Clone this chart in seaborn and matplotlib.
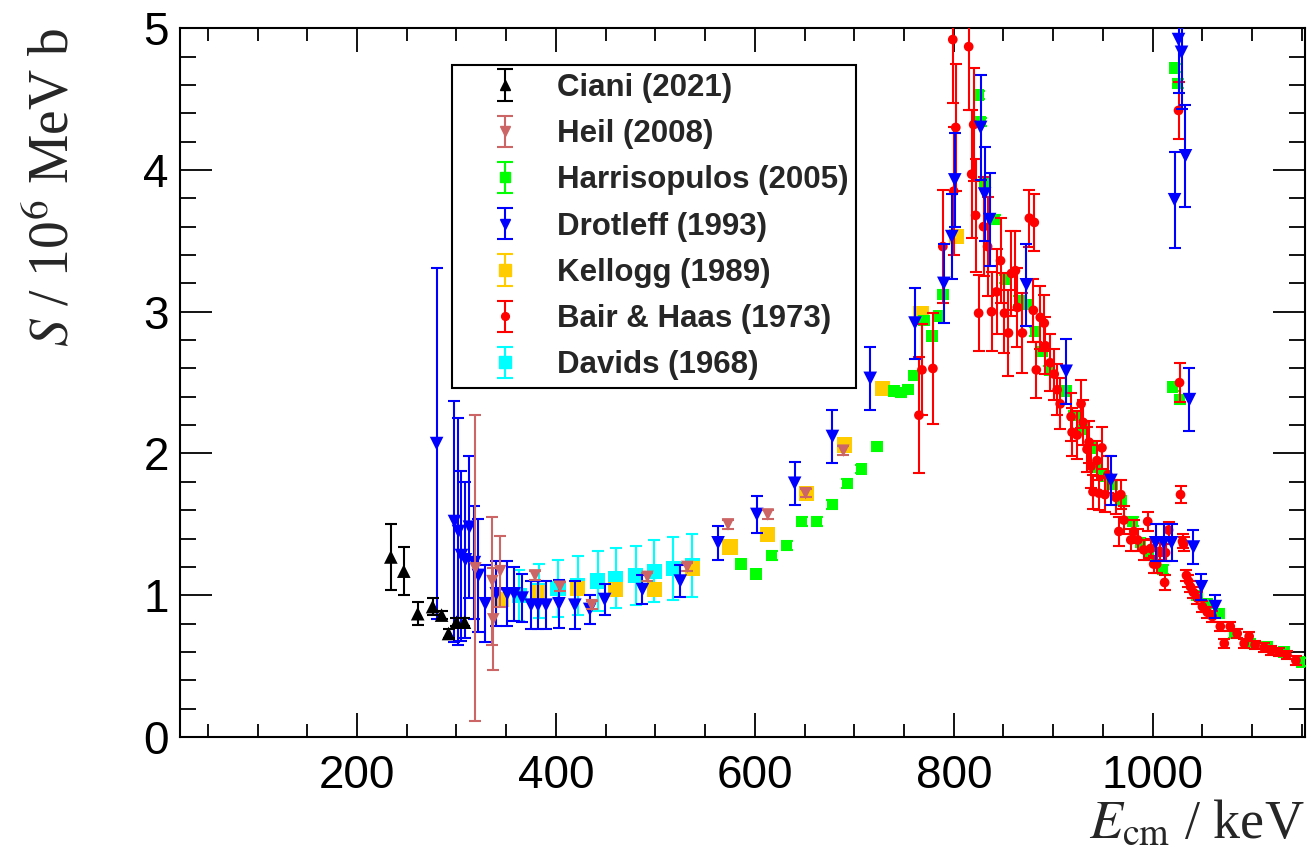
import numpy as np
import pandas as pd
import matplotlib
matplotlib.use('Agg')
import matplotlib.pyplot as plt
from matplotlib.ticker import MultipleLocator, FormatStrFormatter
import seaborn as sns

# ---- data (E_cm in keV, S in 10^6 MeV b) ----
ciani_x = [234, 247, 261, 276, 285, 292, 300, 308]
ciani_y = [1.27, 1.17, 0.87, 0.92, 0.86, 0.73, 0.81, 0.81]
ciani_e = [0.23, 0.17, 0.08, 0.06, 0.03, 0.03, 0.03, 0.03]

heil_x = [319, 336, 337, 344, 379, 404, 436, 492, 532, 573, 613, 651, 689]
heil_y = [1.19, 1.10, 0.83, 1.17, 1.14, 1.06, 0.93, 1.13, 1.20, 1.50, 1.57, 1.72, 2.02]
heil_e = [1.08, 0.45, 0.36, 0.25, 0.03, 0.03, 0.03, 0.03, 0.03, 0.03, 0.03, 0.03, 0.03]

harr_x = [586, 601, 617, 632, 647, 662, 678, 693, 707, 723, 740, 747, 754, 760, 770,
          778, 785, 789, 825, 827, 831, 841, 852, 866, 874, 882, 889, 896, 913, 921,
          929, 938, 944, 951, 959, 968, 980, 988, 996, 1010, 1045, 1020, 1022, 1025,
          1027, 1055, 1067, 1082, 1098, 1115, 1132, 1150]
harr_y = [1.22, 1.15, 1.28, 1.35, 1.52, 1.52, 1.64, 1.79, 1.89, 2.05, 2.44, 2.43, 2.45,
          2.55, 2.94, 2.83, 2.97, 3.12, 4.53, 4.34, 3.90, 3.65, 3.23, 3.08, 3.05, 2.86,
          2.72, 2.59, 2.44, 2.27, 2.17, 2.04, 1.90, 1.84, 1.78, 1.67, 1.52, 1.37, 1.28,
          1.18, 1.00, 2.47, 4.72, 4.61, 2.38, 0.94, 0.87, 0.73, 0.66, 0.64, 0.60, 0.53]
harr_e = [0.03] * len(harr_x)

drot_x = [280, 298, 302, 305, 309, 313, 318, 322, 329, 340, 351, 358, 366, 375, 382,
          390, 403, 419, 434, 449, 487, 525, 563, 602, 640, 678, 716, 761, 790, 798,
          801, 827, 831, 836, 873, 913, 958, 1003, 1011, 1019, 1022, 1026, 1029, 1033,
          1037, 1041, 1049, 1063]
drot_y = [2.07, 1.52, 1.45, 1.28, 1.25, 1.48, 1.23, 1.14, 0.94, 1.01, 1.01, 1.01, 0.98,
          0.93, 0.93, 0.93, 0.94, 0.93, 0.90, 0.97, 1.04, 1.10, 1.37, 1.57, 1.79, 2.12,
          2.53, 2.92, 3.20, 3.53, 3.93, 4.30, 3.83, 3.65, 3.19, 2.58, 1.81, 1.37, 1.37,
          1.37, 3.79, 4.92, 4.83, 4.10, 2.38, 1.34, 1.06, 0.92]
drot_e = [1.24, 0.85, 0.80, 0.60, 0.55, 0.50, 0.40, 0.40, 0.27, 0.23, 0.23, 0.19, 0.17,
          0.17, 0.17, 0.17, 0.17, 0.17, 0.10, 0.11, 0.10, 0.11, 0.12, 0.13, 0.15, 0.19,
          0.22, 0.25, 0.28, 0.30, 0.33, 0.37, 0.33, 0.33, 0.29, 0.23, 0.17, 0.13, 0.13,
          0.13, 0.34, 0.38, 0.40, 0.36, 0.22, 0.12, 0.09, 0.08]

kell_x = [345, 382, 422, 460, 499, 537, 575, 613, 652, 690, 728, 767, 803]
kell_y = [0.97, 1.02, 1.05, 1.04, 1.04, 1.19, 1.34, 1.43, 1.72, 2.06, 2.46, 2.99, 3.53]
kell_e = [0.03] * len(kell_x)

bair_x = [765, 768, 779, 789, 799, 800, 802, 815, 818, 820, 822, 825, 830, 834, 838,
          843, 847, 851, 855, 858, 862, 864, 869, 876, 881, 880, 883, 887, 891, 892,
          897, 901, 904, 907, 918, 919, 924, 928, 930, 934, 936, 938, 940, 944, 946,
          949, 952, 955, 963, 966, 968, 971, 978, 981, 985, 991, 995, 998, 1001, 1004,
          1007, 1012, 1013, 1016, 1026, 1027, 1028, 1030, 1031, 1034, 1036, 1038, 1041,
          1045, 1050, 1055, 1060, 1068, 1072, 1078, 1085, 1092, 1097, 1103, 1112, 1119,
          1127, 1135, 1144]
bair_y = [2.27, 2.59, 2.60, 3.46, 4.92, 3.85, 4.30, 4.87, 3.97, 4.32, 3.68, 2.99, 3.60,
          3.46, 3.00, 3.14, 3.36, 2.99, 2.85, 3.27, 3.29, 3.03, 2.85, 3.66, 3.63, 3.01,
          2.59, 2.96, 2.92, 2.76, 2.64, 2.56, 2.45, 2.35, 2.26, 2.15, 2.13, 2.35, 2.22,
          2.03, 2.08, 1.91, 1.73, 1.95, 1.72, 2.04, 1.71, 1.85, 1.69, 1.45, 1.71, 1.53,
          1.39, 1.45, 1.39, 1.32, 1.52, 1.33, 1.22, 1.22, 1.31, 1.09, 1.30, 1.46, 4.42,
          2.50, 1.71, 1.38, 1.36, 1.14, 1.10, 1.06, 1.02, 0.98, 0.92, 0.88, 0.85, 0.78,
          0.66, 0.78, 0.73, 0.66, 0.71, 0.65, 0.63, 0.61, 0.60, 0.58, 0.54]
bair_e = [0.41, 0.32, 0.39, 0.40, 0.45, 0.45, 0.45, 0.45, 0.45, 0.40, 0.40, 0.27, 0.35,
          0.35, 0.28, 0.30, 0.30, 0.28, 0.30, 0.30, 0.28, 0.28, 0.28, 0.20, 0.20, 0.22,
          0.20, 0.22, 0.20, 0.20, 0.20, 0.18, 0.18, 0.18, 0.17, 0.17, 0.17, 0.17, 0.16,
          0.16, 0.15, 0.15, 0.12, 0.14, 0.12, 0.15, 0.12, 0.13, 0.12, 0.10, 0.10, 0.10,
          0.08, 0.08, 0.08, 0.07, 0.07, 0.07, 0.06, 0.06, 0.06, 0.05, 0.06, 0.06, 0.20,
          0.14, 0.06, 0.05, 0.05, 0.04, 0.04, 0.04, 0.04, 0.04, 0.04, 0.04, 0.04, 0.03,
          0.03, 0.03, 0.03, 0.03, 0.03, 0.03, 0.03, 0.03, 0.03, 0.03, 0.03]

dav_x = [363, 383, 402, 422, 442, 460, 480, 499, 518, 537]
dav_y = [1.00, 1.03, 1.05, 1.07, 1.10, 1.12, 1.14, 1.17, 1.19, 1.21]
dav_e = [0.18, 0.19, 0.20, 0.21, 0.21, 0.21, 0.21, 0.22, 0.22, 0.22]

labels = ['Ciani (2021)', 'Heil (2008)', 'Harrisopulos (2005)', 'Drotleff (1993)',
          'Kellogg (1989)', 'Bair & Haas (1973)', 'Davids (1968)']

# name, x, y, err, color, marker, marker size (pt), zorder
sets = [
    ('Davids (1968)', dav_x, dav_y, dav_e, '#00ffff', 's', 11, 2),
    ('Kellogg (1989)', kell_x, kell_y, kell_e, '#ffcc00', 's', 11, 3),
    ('Harrisopulos (2005)', harr_x, harr_y, harr_e, '#00ff00', 's', 8.2, 4),
    ('Bair & Haas (1973)', bair_x, bair_y, bair_e, '#ff0000', 'o', 7, 5),
    ('Drotleff (1993)', drot_x, drot_y, drot_e, '#0000ff', 'v', 9.8, 6),
    ('Heil (2008)', heil_x, heil_y, heil_e, '#cc6666', 'v', 9, 7),
    ('Ciani (2021)', ciani_x, ciani_y, ciani_e, '#000000', '^', 9.8, 8),
]

sns.set_style('ticks')
plt.rcParams['font.family'] = ['Liberation Sans', 'DejaVu Sans']
plt.rcParams['mathtext.fontset'] = 'stix'

fig = plt.figure(figsize=(13.11, 8.55), dpi=100)
ax = fig.add_axes([0.1373, 0.138, 0.858, 0.829])

handles = {}
for name, x, y, e, col, mk, ms, z in sets:
    ax.errorbar(x, y, yerr=e, fmt='none', ecolor=col, elinewidth=1.5,
                capsize=4.5, capthick=1.5, zorder=z)
    sns.scatterplot(x=x, y=y, marker=mk, color=col, s=ms ** 2, edgecolor='none',
                    linewidth=0, ax=ax, zorder=z + 0.5, legend=False)
    # proxy for the legend entry
    handles[name] = ax.errorbar([np.nan], [np.nan], yerr=[np.nan], fmt=mk, color=col,
                                ms=ms * 0.8, elinewidth=1.5, capsize=6, capthick=1.5)

ax.set_xlim(22, 1153)
ax.set_ylim(0, 5)
ax.xaxis.set_major_locator(MultipleLocator(200))
ax.xaxis.set_minor_locator(MultipleLocator(50))
ax.yaxis.set_major_locator(MultipleLocator(1))
ax.yaxis.set_minor_locator(MultipleLocator(0.2))
ax.yaxis.set_major_formatter(FormatStrFormatter('%d'))

ax.tick_params(axis='both', which='both', direction='in', top=True, right=True,
               width=1.3, labelsize=33, colors='black')
ax.tick_params(axis='x', which='major', length=17, pad=12)
ax.tick_params(axis='x', which='minor', length=9.5)
ax.tick_params(axis='y', which='major', length=23, pad=8)
ax.tick_params(axis='y', which='minor', length=11.5)
for sp in ax.spines.values():
    sp.set_linewidth(1.5)
    sp.set_color('black')

ax.set_ylabel(r'$S$ / 10$^6$ MeV b', fontsize=40, family='Liberation Serif', loc='top')
ax.yaxis.set_label_coords(-0.089, 1.0)
ax.set_xlabel(r'$E_{\rm cm}$ / keV', fontsize=39, family='Liberation Serif', loc='right')
ax.xaxis.set_label_coords(1.0, -0.088)

leg = ax.legend([handles[l] for l in labels], labels, loc='upper left',
                bbox_to_anchor=(0.242, 0.948), borderaxespad=0, frameon=True,
                fancybox=False, framealpha=1, edgecolor='black',
                prop={'family': 'Liberation Sans', 'weight': 'bold', 'size': 22.5},
                borderpad=0.25, labelspacing=0.52, handlelength=2.9, handletextpad=0.2)
leg.get_frame().set_linewidth(1.5)

fig.savefig('out.png', dpi=100, facecolor='white')
